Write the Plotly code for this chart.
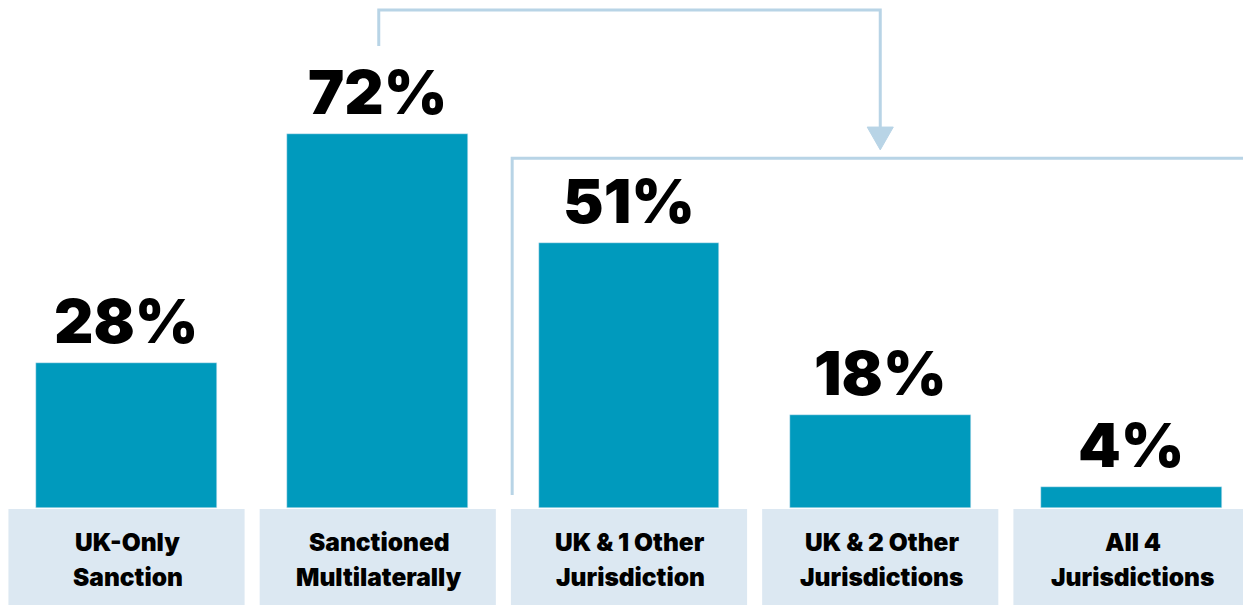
import plotly.graph_objects as go

categories = ["UK-Only<br>Sanction", "Sanctioned<br>Multilaterally", "UK & 1 Other<br>Jurisdiction",
              "UK & 2 Other<br>Jurisdictions", "All 4<br>Jurisdictions"]
values = [28, 72, 51, 18, 4]
value_labels = ["28%", "72%", "51%", "18%", "4%"]

BAR = "#009abd"
BOX = "#dce8f2"
LINE = "#b8d4e6"
FONT = "Inter"

idx = list(range(len(categories)))

fig = go.Figure()
fig.add_trace(go.Bar(x=idx, y=values, marker_color=BAR, width=0.72, hoverinfo="skip"))

shapes = []
annotations = []
for i, (cat, v, lab) in enumerate(zip(categories, values, value_labels)):
    shapes.append(dict(type="rect", xref="x", yref="y", x0=i - 0.47, x1=i + 0.47,
                       y0=-19, y1=-0.2, fillcolor=BOX, line_width=0, layer="below"))
    annotations.append(dict(x=i, y=v, xref="x", yref="y", text=lab, showarrow=False,
                            yanchor="bottom", yshift=3,
                            font=dict(family=FONT, size=61, color="black", weight=900)))
    for k, line in enumerate(cat.split("<br>")):
        annotations.append(dict(x=i + 0.005, y=-6.6 - k * 6.75, xref="x", yref="y", text=line,
                                showarrow=False, yanchor="middle",
                                font=dict(family=FONT, size=24.5, color="black", weight=900)))

# bracket from "Sanctioned Multilaterally" pointing down onto the multi-jurisdiction group
shapes.append(dict(type="path", xref="x", yref="y",
                   path="M 1.004 89 L 1.004 95.95 L 3.0 95.95 L 3.0 72",
                   line=dict(color=LINE, width=3)))
shapes.append(dict(type="path", xref="x", yref="y",
                   path="M 2.948 73.4 L 3.052 73.4 L 3.0 69.0 Z",
                   fillcolor=LINE, line=dict(color=LINE, width=1)))
shapes.append(dict(type="path", xref="x", yref="y",
                   path="M 1.535 2.5 L 1.535 67.4 L 4.6 67.4",
                   line=dict(color=LINE, width=3)))

fig.update_layout(
    width=1243, height=605,
    margin=dict(l=0, r=0, t=0, b=0),
    paper_bgcolor="white", plot_bgcolor="white",
    showlegend=False,
    bargap=0,
    xaxis=dict(range=[-0.5035, 4.4438], visible=False, fixedrange=True),
    yaxis=dict(range=[-18.69, 97.88], visible=False, fixedrange=True),
    shapes=shapes, annotations=annotations,
)

fig.write_html("out.html", config={"displayModeBar": False},
               post_script="document.body.style.margin='0';document.body.style.overflow='hidden';")
